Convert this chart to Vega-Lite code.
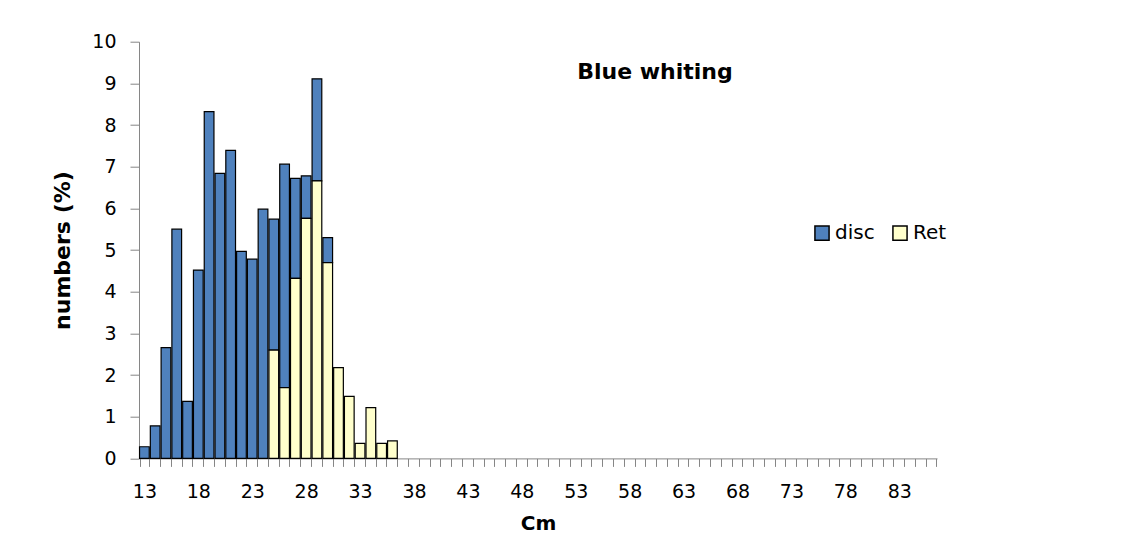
{
  "$schema": "https://vega.github.io/schema/vega-lite/v6.json",
  "width": 798,
  "height": 416.7,
  "autosize": "none",
  "padding": {"left": 139, "top": 41.7, "right": 197, "bottom": 79.6},
  "background": "white",
  "config": {
    "font": "DejaVu Sans",
    "view": {"stroke": null},
    "axis": {"domainColor": "#868686", "tickColor": "#868686", "labelColor": "#000000", "titleColor": "#000000", "labelFont": "DejaVu Sans", "titleFont": "DejaVu Sans", "grid": false}
  },
  "title": {
    "text": "Blue whiting",
    "font": "DejaVu Sans",
    "fontSize": 22,
    "fontWeight": "bold",
    "color": "#000000",
    "anchor": "middle",
    "frame": "group",
    "dx": 117,
    "dy": 55
  },
  "data": {
    "values": [
      {"cm": 13, "series": "disc", "pct": 0.28},
      {"cm": 14, "series": "disc", "pct": 0.78},
      {"cm": 15, "series": "disc", "pct": 2.66},
      {"cm": 16, "series": "disc", "pct": 5.50},
      {"cm": 17, "series": "disc", "pct": 1.37},
      {"cm": 18, "series": "disc", "pct": 4.52},
      {"cm": 19, "series": "disc", "pct": 8.32},
      {"cm": 20, "series": "disc", "pct": 6.84},
      {"cm": 21, "series": "disc", "pct": 7.39},
      {"cm": 22, "series": "disc", "pct": 4.97},
      {"cm": 23, "series": "disc", "pct": 4.78},
      {"cm": 24, "series": "disc", "pct": 5.98},
      {"cm": 25, "series": "disc", "pct": 3.14},
      {"cm": 26, "series": "disc", "pct": 5.36},
      {"cm": 27, "series": "disc", "pct": 2.40},
      {"cm": 28, "series": "disc", "pct": 1.02},
      {"cm": 29, "series": "disc", "pct": 2.45},
      {"cm": 30, "series": "disc", "pct": 0.60},
      {"cm": 25, "series": "Ret", "pct": 2.60},
      {"cm": 26, "series": "Ret", "pct": 1.70},
      {"cm": 27, "series": "Ret", "pct": 4.32},
      {"cm": 28, "series": "Ret", "pct": 5.76},
      {"cm": 29, "series": "Ret", "pct": 6.66},
      {"cm": 30, "series": "Ret", "pct": 4.70},
      {"cm": 31, "series": "Ret", "pct": 2.18},
      {"cm": 32, "series": "Ret", "pct": 1.49},
      {"cm": 33, "series": "Ret", "pct": 0.36},
      {"cm": 34, "series": "Ret", "pct": 1.22},
      {"cm": 35, "series": "Ret", "pct": 0.36},
      {"cm": 36, "series": "Ret", "pct": 0.42}
    ]
  },
  "mark": {"type": "bar", "stroke": "#000000", "strokeWidth": 1.2},
  "encoding": {
    "x": {
      "field": "cm",
      "type": "ordinal",
      "scale": {
        "domain": [13,14,15,16,17,18,19,20,21,22,23,24,25,26,27,28,29,30,31,32,33,34,35,36,37,38,39,40,41,42,43,44,45,46,47,48,49,50,51,52,53,54,55,56,57,58,59,60,61,62,63,64,65,66,67,68,69,70,71,72,73,74,75,76,77,78,79,80,81,82,83,84,85,86],
        "paddingInner": 0.1,
        "paddingOuter": 0.05
      },
      "axis": {
        "title": "Cm",
        "titleFontSize": 20,
        "titleFontWeight": "bold",
        "titlePadding": 12,
        "labelAngle": 0,
        "labelFontSize": 19,
        "labelPadding": 16,
        "tickSize": 8,
        "tickBand": "extent",
        "labelExpr": "(+datum.value - 13) % 5 == 0 ? datum.label : ''",
        "labelOverlap": false
      }
    },
    "y": {
      "field": "pct",
      "type": "quantitative",
      "stack": "zero",
      "scale": {"domain": [0, 10], "nice": false},
      "axis": {
        "title": "numbers (%)",
        "titleFontSize": 22,
        "titleFontWeight": "bold",
        "titlePadding": 17,
        "values": [0,1,2,3,4,5,6,7,8,9,10],
        "labelOverlap": false,
        "labelFontSize": 19,
        "labelPadding": 14,
        "tickSize": 9
      }
    },
    "color": {
      "field": "series",
      "type": "nominal",
      "scale": {"domain": ["disc", "Ret"], "range": ["#4F81BD", "#FFFFCC"]},
      "legend": {
        "title": null,
        "orient": "none",
        "legendX": 673,
        "legendY": 181,
        "direction": "horizontal",
        "symbolType": "square",
        "symbolSize": 200,
        "symbolStrokeColor": "#000000",
        "symbolStrokeWidth": 1.5,
        "labelFontSize": 20,
        "labelOffset": 3,
        "labelFont": "DejaVu Sans",
        "labelColor": "#000000",
        "columnPadding": 14
      }
    },
    "order": {"field": "series", "sort": "ascending"}
  }
}
